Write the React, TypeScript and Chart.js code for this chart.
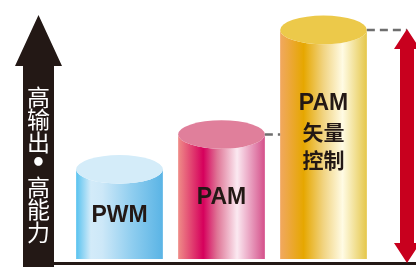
import React, { useEffect, useRef } from "react";
import { Chart, registerables } from "chart.js";

Chart.register(...registerables);

// ---- data ----
const categories = ["PWM", "PAM", "PAM 矢量控制"];
const labelLines = [["PWM"], ["PAM"], ["PAM", "矢量", "控制"]];
const outputLevel = [36, 50, 92];
const axisTitleChars = ["高", "输", "出", "•", "高", "能", "力"];

// ---- styles ----
const bodyStops: [number, string][][] = [
  [[0, "#58c2ef"], [0.17, "#d3ebf9"], [0.3, "#cde8f8"], [0.65, "#8ecdef"], [1, "#5ab4e5"]],
  [[0, "#ef8c88"], [0.29, "#d6005c"], [0.45, "#df7596"], [0.68, "#fbe9f1"], [1, "#d5508a"]],
  [[0, "#f1a861"], [0.27, "#e6a700"], [0.5, "#f1d482"], [0.72, "#fffbe4"], [1, "#e5c74a"]],
];
const topColors = ["#d4ecf9", "#e07f9b", "#ecc94a"];
const inkColor = "#231815";

const cylinderPlugin = {
  id: "cylinders",
  beforeDatasetsDraw(chart: any) {
    const ctx = chart.ctx;
    const yScale = chart.scales.y;
    const base = yScale.getPixelForValue(0);
    ctx.save();
    ctx.fillStyle = inkColor;
    // vertical black arrow (axis)
    ctx.beginPath();
    ctx.moveTo(38.5, 15);
    ctx.lineTo(62, 66);
    ctx.lineTo(54, 66);
    ctx.lineTo(54, chart.height);
    ctx.lineTo(23, chart.height);
    ctx.lineTo(23, 66);
    ctx.lineTo(15, 66);
    ctx.closePath();
    ctx.fill();
    // baseline
    ctx.fillRect(23, base + 3, chart.width - 23, 3);
    // axis title
    ctx.fillStyle = "#ffffff";
    ctx.textAlign = "center";
    ctx.textBaseline = "middle";
    axisTitleChars.forEach((c, i) => {
      ctx.font = c === "•"
        ? "bold 24px 'DejaVu Sans', sans-serif"
        : "23px 'Noto Sans CJK SC', sans-serif";
      ctx.fillText(c, 38.5, 97 + i * 22.5);
    });
    ctx.restore();
  },
  afterDatasetsDraw(chart: any) {
    const ctx = chart.ctx;
    const meta = chart.getDatasetMeta(0);
    const yScale = chart.scales.y;
    const base = yScale.getPixelForValue(0);
    const tops: { x: number; y: number; w: number }[] = [];
    ctx.save();
    meta.data.forEach((bar: any, i: number) => {
      const { x, y, width } = bar.getProps(["x", "y", "width"], true);
      const left = x - width / 2;
      const right = x + width / 2;
      const ry = width * 0.165;
      tops.push({ x, y, w: width });
      const g = ctx.createLinearGradient(left, 0, right, 0);
      bodyStops[i].forEach(([o, c]) => g.addColorStop(o, c));
      ctx.fillStyle = g;
      ctx.beginPath();
      ctx.moveTo(left, base);
      ctx.lineTo(right, base);
      ctx.lineTo(right, y);
      ctx.ellipse(x, y, width / 2, ry, 0, 0, Math.PI, false);
      ctx.closePath();
      ctx.fill();
      ctx.fillStyle = topColors[i];
      ctx.beginPath();
      ctx.ellipse(x, y, width / 2, ry, 0, 0, Math.PI * 2);
      ctx.fill();
    });

    // labels
    ctx.fillStyle = inkColor;
    ctx.textAlign = "center";
    ctx.textBaseline = "middle";
    const labelY = [216, 198, 104];
    labelLines.forEach((lines, i) => {
      lines.forEach((t, j) => {
        const isLatin = /^[A-Z]+$/.test(t);
        ctx.font = isLatin
          ? "bold 23px 'Liberation Sans', Arial, sans-serif"
          : "bold 21px 'Noto Sans CJK SC', sans-serif";
        ctx.fillText(t, tops[i].x, labelY[i] + j * 28);
      });
    });

    // dashed level lines
    const arrowX = 407;
    ctx.strokeStyle = "#6e6e6e";
    ctx.lineWidth = 2.5;
    ctx.setLineDash([8, 5]);
    ctx.beginPath();
    ctx.moveTo(tops[1].x + tops[1].w / 2, tops[1].y);
    ctx.lineTo(tops[2].x - tops[2].w / 2, tops[1].y);
    ctx.moveTo(tops[2].x + tops[2].w / 2, tops[2].y);
    ctx.lineTo(arrowX, tops[2].y);
    ctx.stroke();
    ctx.setLineDash([]);

    // red double arrow
    const topY = tops[2].y - 1;
    const botY = base + 4;
    ctx.fillStyle = "#c8001e";
    ctx.beginPath();
    ctx.moveTo(arrowX, topY);
    ctx.lineTo(arrowX + 13, topY + 20);
    ctx.lineTo(arrowX + 7, topY + 20);
    ctx.lineTo(arrowX + 7, botY - 20);
    ctx.lineTo(arrowX + 13, botY - 20);
    ctx.lineTo(arrowX, botY);
    ctx.lineTo(arrowX - 13, botY - 20);
    ctx.lineTo(arrowX - 7, botY - 20);
    ctx.lineTo(arrowX - 7, topY + 20);
    ctx.lineTo(arrowX - 13, topY + 20);
    ctx.closePath();
    ctx.fill();
    ctx.restore();
  },
};

export default function App() {
  const ref = useRef<HTMLCanvasElement | null>(null);
  useEffect(() => {
    document.body.style.margin = "0";
    const chart = new Chart(ref.current as HTMLCanvasElement, {
      type: "bar",
      data: {
        labels: categories,
        datasets: [
          {
            data: outputLevel,
            backgroundColor: "rgba(0,0,0,0)",
            borderWidth: 0,
            barPercentage: 0.85,
            categoryPercentage: 1,
          },
        ],
      },
      options: {
        responsive: false,
        animation: false,
        layout: { padding: { left: 68.5, right: 41.5, top: 10, bottom: 8 } },
        plugins: { legend: { display: false }, tooltip: { enabled: false } },
        scales: {
          x: { display: false },
          y: { display: false, min: 0, max: 100 },
        },
      },
      plugins: [cylinderPlugin],
    });
    return () => chart.destroy();
  }, []);
  return <canvas ref={ref} width={416} height={267} style={{ display: "block" }} />;
}
